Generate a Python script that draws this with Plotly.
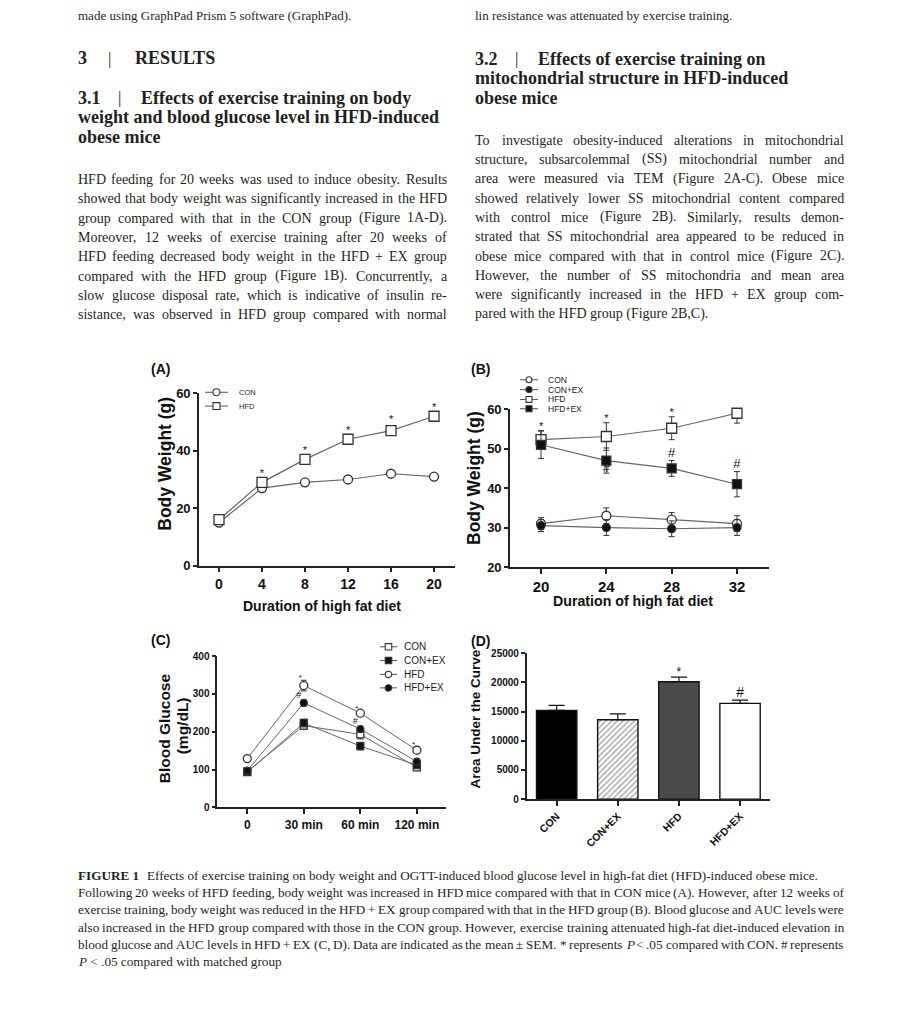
import re
import plotly.graph_objects as go

# ---------------- data ----------------
A_weeks = [0, 4, 8, 12, 16, 20]
A_con = [15, 27, 29, 30, 32, 31]
A_con_sem = [0.6, 0.6, 0.5, 0.6, 0.8, 0.5]
A_hfd = [16, 29, 37, 44, 47, 52]
A_hfd_sem = [0.6, 0.8, 0.8, 0.8, 1.5, 0.8]

B_weeks = [20, 24, 28, 32]
B_con = [31, 33, 32, 31]
B_con_sem = [1.5, 2.0, 1.8, 2.0]
B_conex = [30.5, 30, 29.7, 30]
B_conex_sem = [1.5, 2.0, 2.0, 2.0]
B_hfd = [52.3, 53.1, 55.2, 59]
B_hfd_sem = [2.3, 3.5, 2.9, 2.5]
B_hfdex = [51, 47, 45, 41]
B_hfdex_sem = [3.5, 3.2, 2.0, 3.2]

C_labels = ["0", "30 min", "60 min", "120 min"]
C_x = [0, 1, 2, 3]
C_con = [95, 216, 193, 106]
C_con_sem = [5, 10, 12, 8]
C_conex = [93, 223, 162, 112]
C_conex_sem = [5, 10, 10, 8]
C_hfd = [129, 322, 249, 151]
C_hfd_sem = [6, 14, 6, 8]
C_hfdex = [97, 276, 207, 121]
C_hfdex_sem = [5, 8, 8, 8]

D_groups = ["CON", "CON+EX", "HFD", "HFD+EX"]
D_auc = [15200, 13600, 20100, 16400]
D_sem = [850, 1000, 800, 570]

# ---------------- text ----------------
top_left_cut = "made using GraphPad Prism 5 software (GraphPad)."
top_right_cut = "lin resistance was attenuated by exercise training."
left_body = [
    "HFD feeding for 20 weeks was used to induce obesity. Results",
    "showed that body weight was significantly increased in the HFD",
    "group compared with that in the CON group (Figure 1A-D).",
    "Moreover, 12 weeks of exercise training after 20 weeks of",
    "HFD feeding decreased body weight in the HFD + EX group",
    "compared with the HFD group (Figure 1B). Concurrently, a",
    "slow glucose disposal rate, which is indicative of insulin re-",
    "sistance, was observed in HFD group compared with normal",
]
right_body = [
    "To investigate obesity-induced alterations in mitochondrial",
    "structure, subsarcolemmal (SS) mitochondrial number and",
    "area were measured via TEM (Figure 2A-C). Obese mice",
    "showed relatively lower SS mitochondrial content compared",
    "with control mice (Figure 2B). Similarly, results demon-",
    "strated that SS mitochondrial area appeared to be reduced in",
    "obese mice compared with that in control mice (Figure 2C).",
    "However, the number of SS mitochondria and mean area",
    "were significantly increased in the HFD + EX group com-",
    "pared with the HFD group (Figure 2B,C).",
]
caption_first = ("Effects of exercise training on body weight and OGTT-induced blood glucose "
                 "level in high-fat diet (HFD)-induced obese mice.")
caption_lines = [
    "Following 20 weeks of HFD feeding, body weight was increased in HFD mice compared with that in CON mice (A). However, after 12 weeks of",
    "exercise training, body weight was reduced in the HFD + EX group compared with that in the HFD group (B). Blood glucose and AUC levels were",
    "also increased in the HFD group compared with those in the CON group. However, exercise training attenuated high-fat diet-induced elevation in",
    "blood glucose and AUC levels in HFD + EX (C, D). Data are indicated as the mean ± SEM. * represents <i>P</i> < .05 compared with CON. # represents",
]
caption_last = "<i>P</i> < .05 compared with matched group"

# ---------------- helpers ----------------
W, H = 897, 1024
SERIF = "Liberation Serif"
SANS = "Liberation Sans"
TXT = "#231f20"
AX = "#222222"
MK = "#333333"
LN = "#666666"


def X(p):
    return p / W


def Y(p):
    return 1 - p / H


TIMES = {' ': 250, '!': 333, '"': 408, '#': 500, '$': 500, '%': 833, '&': 778, "'": 180,
         '(': 333, ')': 333, '*': 500, '+': 564, ',': 250, '-': 333, '.': 250, '/': 278,
         ':': 278, ';': 278, '<': 564, '=': 564, '>': 564, '?': 444, '@': 921,
         'A': 722, 'B': 667, 'C': 667, 'D': 722, 'E': 611, 'F': 556, 'G': 722, 'H': 722,
         'I': 333, 'J': 389, 'K': 722, 'L': 611, 'M': 889, 'N': 722, 'O': 722, 'P': 556,
         'Q': 722, 'R': 667, 'S': 556, 'T': 611, 'U': 722, 'V': 722, 'W': 944, 'X': 722,
         'Y': 722, 'Z': 611, 'a': 444, 'b': 500, 'c': 444, 'd': 500, 'e': 444, 'f': 333,
         'g': 500, 'h': 500, 'i': 278, 'j': 278, 'k': 500, 'l': 278, 'm': 778, 'n': 500,
         'o': 500, 'p': 500, 'q': 500, 'r': 333, 's': 389, 't': 278, 'u': 500, 'v': 500,
         'w': 722, 'x': 500, 'y': 500, 'z': 444, '±': 564}
for d in "0123456789":
    TIMES[d] = 500


def tw(s, size):
    plain = re.sub(r"<[^>]+>", "", s)
    return sum(TIMES.get(c, 500) for c in plain) * size / 1000.0


annotations = []
shapes = []


def ann(text, x, y, size, family=SERIF, xanchor="left", yanchor="middle",
        weight="normal", color=TXT, angle=0):
    annotations.append(dict(text=text, x=X(x), y=Y(y), xref="paper", yref="paper",
                            showarrow=False, xanchor=xanchor, yanchor=yanchor,
                            borderpad=0, textangle=angle,
                            font=dict(family=family, size=size, color=color, weight=weight)))


def justified(line, x0, x1, y, size):
    words = line.split(" ")
    ws = [tw(w, size) for w in words]
    gap = (x1 - x0 - sum(ws)) / (len(words) - 1)
    gap = max(gap, 0.18 * size)
    x = x0
    for w, wd in zip(words, ws):
        ann(w, x, y, size)
        x += wd + gap


# ---------------- page text ----------------
ann(top_left_cut, 77, 0, 13, yanchor="top")
ann(top_right_cut, 474, 0, 13, yanchor="top")

HD = 18
ann("3", 77, 52, HD, weight="bold")
ann("|", 109, 52, 17, xanchor="center")
ann("RESULTS", 134, 52, HD, weight="bold")
ann("3.1", 77, 92, HD, weight="bold")
ann("|", 119, 92, 17, xanchor="center")
ann("Effects of exercise training on body", 140, 92, HD, weight="bold")
ann("weight and blood glucose level in HFD-induced", 77, 111.7, HD, weight="bold")
ann("obese mice", 77, 131.5, HD, weight="bold")

ann("3.2", 474, 52.5, HD, weight="bold")
ann("|", 516, 52.5, 17, xanchor="center")
ann("Effects of exercise training on", 537, 52.5, HD, weight="bold")
ann("mitochondrial structure in HFD-induced", 474, 72.5, HD, weight="bold")
ann("obese mice", 474, 92.5, HD, weight="bold")

for i, line in enumerate(left_body):
    justified(line, 77, 446, 175 + 19.65 * i, 14)
for i, line in enumerate(right_body):
    y = 135 + 19.65 * i
    if i < len(right_body) - 1:
        justified(line, 474, 843, y, 14)
    else:
        ann(line, 474, y, 14)

cap_y0 = 881
cap_dy = 17.6
CAP = 13.2
ann("FIGURE 1", 77, cap_y0, CAP, weight="bold")
ann(caption_first, 146, cap_y0, CAP)
for i, line in enumerate(caption_lines):
    justified(line, 77, 843, cap_y0 + cap_dy * (i + 1), CAP)
ann(caption_last, 77, cap_y0 + cap_dy * 5, CAP)

# panel letters
ann("(A)", 150, 367, 14, family=SANS, weight="bold", color="#111")
ann("(B)", 470, 367, 14, family=SANS, weight="bold", color="#111")
ann("(C)", 150, 642, 14, family=SANS, weight="bold", color="#111")
ann("(D)", 470, 643, 14, family=SANS, weight="bold", color="#111")

# axis titles
ann("Body Weight (g)", 165.5, 464, 17.5, family=SANS, weight="bold", color="#111",
    xanchor="center", angle=-90)
ann("Duration of high fat diet", 322, 608, 14, family=SANS, weight="bold", color="#111",
    xanchor="center")
ann("Body Weight (g)", 474, 478, 17.5, family=SANS, weight="bold", color="#111",
    xanchor="center", angle=-90)
ann("Duration of high fat diet", 633, 603, 14.2, family=SANS, weight="bold", color="#111",
    xanchor="center")
ann("Blood Glucose", 164, 732, 15.5, family=SANS, weight="bold", color="#111",
    xanchor="center", angle=-90)
ann("(mg/dL)", 182, 730, 15.5, family=SANS, weight="bold", color="#111",
    xanchor="center", angle=-90)
ann("Area Under the Curve", 475, 723, 13.5, family=SANS, weight="bold", color="#111",
    xanchor="center", angle=-90)


# legends (drawn as layout decorations)
def leg_item(x0, x1, y, sym, filled, msize, label, fsize, tx):
    shapes.append(dict(type="line", xref="paper", yref="paper", x0=X(x0), x1=X(x1),
                       y0=Y(y), y1=Y(y), line=dict(color="#555", width=1)))
    cx = (x0 + x1) / 2.0
    r = msize / 2.0
    shapes.append(dict(type="circle" if sym == "circle" else "rect", xref="paper", yref="paper",
                       x0=X(cx - r), x1=X(cx + r), y0=Y(y - r), y1=Y(y + r),
                       fillcolor="#111" if filled else "white",
                       line=dict(color="#333", width=1.1)))
    ann(label, tx, y, fsize, family=SANS, color="#222")


leg_item(205, 228, 391, "circle", False, 7, "CON", 7.5, 238)
leg_item(205, 228, 405, "square", False, 7, "HFD", 7.5, 238)

leg_item(520, 538, 378.3, "circle", False, 6, "CON", 8.5, 547)
leg_item(520, 538, 388.3, "circle", True, 6, "CON+EX", 8.5, 547)
leg_item(520, 538, 398.3, "square", False, 6, "HFD", 8.5, 547)
leg_item(520, 538, 407.7, "square", True, 6, "HFD+EX", 8.5, 547)

leg_item(380, 397, 649.3, "square", False, 6.5, "CON", 10, 403)
leg_item(380, 397, 663.3, "square", True, 6.5, "CON+EX", 10, 403)
leg_item(380, 397, 677.3, "circle", False, 6.5, "HFD", 10, 403)
leg_item(380, 397, 691, "circle", True, 6.5, "HFD+EX", 10, 403)

# ---------------- traces ----------------
fig = go.Figure()


def series(xa, ya, x, y, sem, symbol, filled, size, lw=1.2, lcolor=LN):
    fig.add_trace(go.Scatter(
        x=x, y=y, xaxis=xa, yaxis=ya, mode="lines+markers", cliponaxis=False,
        line=dict(color=lcolor, width=lw),
        marker=dict(symbol=symbol, size=size, color="#111" if filled else "white",
                    line=dict(color=MK, width=1.3)),
        error_y=dict(type="data", array=sem, color=MK, thickness=1, width=3),
        hoverinfo="skip"))


def marks(xa, ya, x, y, txt, size):
    fig.add_trace(go.Scatter(
        x=x, y=y, xaxis=xa, yaxis=ya, mode="text", text=[txt] * len(x),
        textposition="middle center", cliponaxis=False,
        textfont=dict(family=SANS, size=size, color="#111"), hoverinfo="skip"))


# A
series("x", "y", A_weeks, A_con, A_con_sem, "circle", False, 9)
series("x", "y", A_weeks, A_hfd, A_hfd_sem, "square", False, 10)
marks("x", "y", A_weeks[1:], [v + s + 2.0 for v, s in zip(A_hfd[1:], A_hfd_sem[1:])], "*", 11)

# B
series("x2", "y2", B_weeks, B_con, B_con_sem, "circle", False, 9)
series("x2", "y2", B_weeks, B_conex, B_conex_sem, "circle", True, 8)
series("x2", "y2", B_weeks, B_hfd, B_hfd_sem, "square", False, 10)
series("x2", "y2", B_weeks, B_hfdex, B_hfdex_sem, "square", True, 9)
marks("x2", "y2", B_weeks, [v + s + 0.8 for v, s in zip(B_hfd, B_hfd_sem)], "*", 11)
marks("x2", "y2", B_weeks[1:],
      [B_hfdex[1] - 2.0] + [v + s + 1.8 for v, s in zip(B_hfdex[2:], B_hfdex_sem[2:])], "#", 13)

# C
series("x3", "y3", C_x, C_con, C_con_sem, "square", False, 7, lw=1)
series("x3", "y3", C_x, C_conex, C_conex_sem, "square", True, 7, lw=1)
series("x3", "y3", C_x, C_hfd, C_hfd_sem, "circle", False, 8, lw=1)
series("x3", "y3", C_x, C_hfdex, C_hfdex_sem, "circle", True, 7, lw=1)
marks("x3", "y3", [x - 0.06 for x in C_x[1:]],
      [v + s + 6 for v, s in zip(C_hfd[1:], C_hfd_sem[1:])], "*", 8)
marks("x3", "y3", [x - 0.09 for x in C_x[1:3]],
      [v + s + 12 for v, s in zip(C_hfdex[1:3], C_hfdex_sem[1:3])], "#", 9)

# D
fig.add_trace(go.Bar(
    x=[0, 1, 2, 3], y=D_auc, xaxis="x4", yaxis="y4", width=0.66,
    marker=dict(color=["#000000", "#ffffff", "#4b4b4b", "#ffffff"],
                line=dict(color="#111", width=1.4),
                pattern=dict(shape=["", "/", "", ""], fgcolor="#8a8a8a", size=4, solidity=0.35)),
    error_y=dict(type="data", array=D_sem, arrayminus=[0] * 4, symmetric=False,
                 color="#111", thickness=1.2, width=8),
    hoverinfo="skip"))
marks("x4", "y4", [2], [D_auc[2] + D_sem[2] + 700], "*", 12)
marks("x4", "y4", [3], [D_auc[3] + D_sem[3] + 1150], "#", 14)


# ---------------- axes ----------------
def ax(**kw):
    base = dict(showline=True, linecolor=AX, linewidth=1.6, ticks="outside", ticklen=5,
                tickwidth=1.5, tickcolor=AX, showgrid=False, zeroline=False,
                fixedrange=True)
    base.update(kw)
    return base


def tf(size):
    return dict(family=SANS, size=size, color="#111", weight="bold")


fig.update_layout(
    width=W, height=H, margin=dict(l=0, r=0, t=0, b=0),
    paper_bgcolor="white", plot_bgcolor="white", showlegend=False,
    annotations=annotations, shapes=shapes,
    xaxis=ax(domain=[X(199), X(455)], range=[-1.86, 21.95], tickvals=A_weeks,
             anchor="y", tickfont=tf(14)),
    yaxis=ax(domain=[Y(567), Y(392)], range=[0, 60], tickvals=[0, 20, 40, 60],
             anchor="x", tickfont=tf(13), ticklen=4),
    xaxis2=ax(domain=[X(510), X(769)], range=[18.10, 33.96], tickvals=B_weeks,
              anchor="y2", tickfont=tf(15)),
    yaxis2=ax(domain=[Y(568.3), Y(408.3)], range=[20, 60], tickvals=[20, 30, 40, 50, 60],
              anchor="x2", tickfont=tf(13), ticklen=4),
    xaxis3=ax(domain=[X(217.3), X(445.7)], range=[-0.53, 3.51], tickvals=C_x,
              ticktext=C_labels, anchor="y3", tickfont=tf(12)),
    yaxis3=ax(domain=[Y(812.3), Y(658.7)], range=[0, 400], tickvals=[0, 100, 200, 300, 400],
              anchor="x3", tickfont=tf(10), ticklen=4),
    xaxis4=ax(domain=[X(526.7), X(770)], range=[-0.49, 3.49], tickvals=[0, 1, 2, 3],
              ticktext=D_groups, tickangle=-45, anchor="y4", tickfont=tf(10.5)),
    yaxis4=ax(domain=[Y(804), Y(655.7)], range=[0, 25000], tickformat="d",
              tickvals=[0, 5000, 10000, 15000, 20000, 25000],
              anchor="x4", tickfont=tf(10), ticklen=4),
)

fig.write_html("out.html", config={"displayModeBar": False},
               post_script="document.body.style.margin='0';")
